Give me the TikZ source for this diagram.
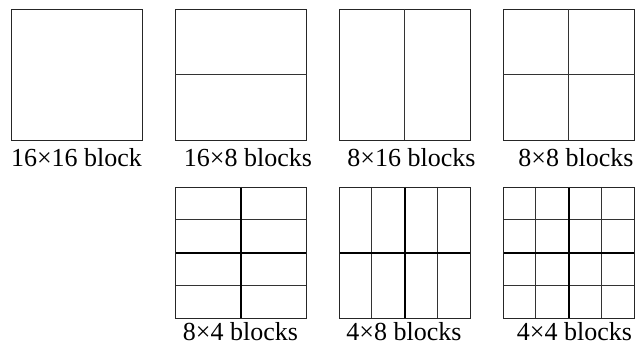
\documentclass[tikz,border=0pt]{standalone}
\usepackage{fontspec}
\setmainfont{Liberation Serif}

\tikzset{
  blk/.style={draw=black!85,line width=0.9pt},
  sub/.style={draw=black!80,line width=0.9pt},
  mid/.style={draw=black,line width=1.7pt},
  lbl/.style={anchor=base,inner sep=0pt,font=\fontsize{26pt}{27pt}\selectfont}
}

\begin{document}
\begin{tikzpicture}[x=1pt,y=-1pt]
\useasboundingbox (0,0) rectangle (641,347);
% first row
\draw[blk] (11,9) rectangle (142.5,140.5);
\draw[blk] (175,9) rectangle (306.5,140.5);
\draw[sub] (175,74.75) -- (306.5,74.75);
\draw[blk] (339,9) rectangle (470.5,140.5);
\draw[sub] (404.75,9) -- (404.75,140.5);
\draw[blk] (503,9) rectangle (634.5,140.5);
\draw[sub] (568.75,9) -- (568.75,140.5);
\draw[sub] (503,74.75) -- (634.5,74.75);
\node[lbl] (l1) at (76.5,167) {16×16 block};
\node[lbl] (l2) at (248,167) {16×8 blocks};
\node[lbl] (l3) at (411.5,167) {8×16 blocks};
\node[lbl] (l4) at (576,167) {8×8 blocks};
% second row
\foreach \y in {219.875,285.625}
  \draw[sub] (175,\y) -- (306.5,\y);
\draw[mid] (175,252.75) -- (306.5,252.75);
\draw[mid] (240.75,187) -- (240.75,318.5);
\draw[blk] (175,187) rectangle (306.5,318.5);
\foreach \x in {371.875,437.625}
  \draw[sub] (\x,187) -- (\x,318.5);
\draw[mid] (339,252.75) -- (470.5,252.75);
\draw[mid] (404.75,187) -- (404.75,318.5);
\draw[blk] (339,187) rectangle (470.5,318.5);
\foreach \d in {32.875,98.625} {
  \draw[sub] (503+\d,187) -- (503+\d,318.5);
  \draw[sub] (503,187+\d) -- (634.5,187+\d);
}
\draw[mid] (503,252.75) -- (634.5,252.75);
\draw[mid] (568.75,187) -- (568.75,318.5);
\draw[blk] (503,187) rectangle (634.5,318.5);
\node[lbl] (l5) at (240.5,341) {8×4 blocks};
\node[lbl] (l6) at (404,341) {4×8 blocks};
\node[lbl] (l7) at (574.5,341) {4×4 blocks};
\end{tikzpicture}
\end{document}
